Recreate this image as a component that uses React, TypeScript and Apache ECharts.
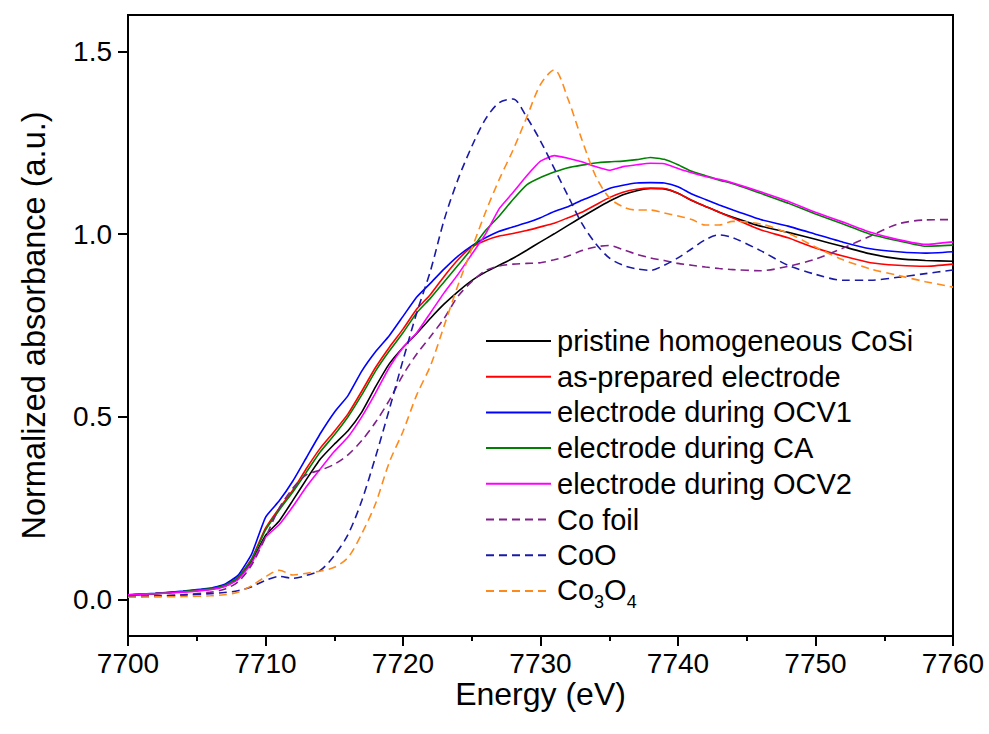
import React, { useEffect, useRef } from 'react';
import * as echarts from 'echarts';

const energy = [7700, 7702, 7704, 7706, 7707, 7708, 7709, 7710, 7711, 7712, 7713, 7714, 7715, 7716, 7717, 7718, 7719, 7720, 7721, 7722, 7723, 7724, 7725, 7726, 7727, 7728, 7729, 7730, 7731, 7732, 7733, 7734, 7735, 7736, 7737, 7738, 7739, 7740, 7741, 7742, 7743, 7744, 7746, 7748, 7750, 7752, 7754, 7756, 7758, 7760];

const pristine = [0.012, 0.016, 0.021, 0.028, 0.036, 0.056, 0.105, 0.175, 0.215, 0.272, 0.33, 0.385, 0.425, 0.462, 0.513, 0.582, 0.645, 0.69, 0.728, 0.77, 0.809, 0.843, 0.873, 0.896, 0.915, 0.934, 0.956, 0.979, 1.001, 1.024, 1.047, 1.069, 1.09, 1.108, 1.119, 1.125, 1.124, 1.112, 1.092, 1.076, 1.06, 1.046, 1.022, 1.005, 0.986, 0.966, 0.946, 0.933, 0.928, 0.926];

const asPrepared = [0.012, 0.016, 0.022, 0.029, 0.038, 0.06, 0.112, 0.195, 0.25, 0.3, 0.36, 0.415, 0.46, 0.508, 0.57, 0.635, 0.69, 0.74, 0.795, 0.835, 0.885, 0.93, 0.965, 0.983, 0.995, 1.002, 1.01, 1.02, 1.03, 1.045, 1.06, 1.08, 1.1, 1.115, 1.123, 1.126, 1.125, 1.112, 1.093, 1.076, 1.06, 1.044, 1.012, 0.99, 0.962, 0.94, 0.922, 0.915, 0.912, 0.918];

const ocv1 = [0.013, 0.017, 0.023, 0.031, 0.041, 0.066, 0.125, 0.225, 0.27, 0.325, 0.39, 0.455, 0.512, 0.558, 0.625, 0.678, 0.722, 0.775, 0.828, 0.866, 0.905, 0.94, 0.968, 0.99, 1.008, 1.02, 1.031, 1.045, 1.062, 1.075, 1.093, 1.108, 1.125, 1.134, 1.14, 1.141, 1.14, 1.13, 1.11, 1.095, 1.08, 1.066, 1.04, 1.022, 1.0, 0.978, 0.96, 0.952, 0.948, 0.952];

const duringCA = [0.012, 0.016, 0.022, 0.029, 0.038, 0.059, 0.11, 0.19, 0.245, 0.295, 0.35, 0.405, 0.45, 0.5, 0.56, 0.625, 0.68, 0.73, 0.785, 0.825, 0.87, 0.915, 0.96, 1.01, 1.05, 1.095, 1.135, 1.155, 1.17, 1.182, 1.189, 1.195, 1.198, 1.2, 1.204, 1.21, 1.205, 1.19, 1.172, 1.16, 1.148, 1.138, 1.112, 1.085, 1.055, 1.028, 1.0, 0.982, 0.967, 0.97];

const ocv2 = [0.013, 0.016, 0.02, 0.027, 0.035, 0.054, 0.1, 0.17, 0.205, 0.255, 0.31, 0.358, 0.405, 0.445, 0.5, 0.565, 0.635, 0.69, 0.73, 0.785, 0.84, 0.89, 0.945, 1.0, 1.07, 1.114, 1.16, 1.2, 1.215, 1.208, 1.198, 1.185, 1.175, 1.185, 1.19, 1.194, 1.193, 1.18, 1.168, 1.158, 1.15, 1.14, 1.116, 1.09, 1.06, 1.033, 1.005, 0.985, 0.972, 0.979];

const coFoil = [0.008, 0.01, 0.013, 0.02, 0.028, 0.048, 0.095, 0.17, 0.25, 0.305, 0.342, 0.354, 0.37, 0.396, 0.435, 0.485, 0.545, 0.615, 0.672, 0.72, 0.77, 0.83, 0.87, 0.9, 0.913, 0.918, 0.92, 0.922, 0.93, 0.94, 0.955, 0.965, 0.969, 0.958, 0.945, 0.935, 0.928, 0.92, 0.915, 0.91, 0.906, 0.903, 0.9, 0.912, 0.932, 0.962, 0.995, 1.028, 1.039, 1.04];

const coO = [0.007, 0.009, 0.012, 0.016, 0.019, 0.024, 0.035, 0.052, 0.063, 0.058, 0.066, 0.08, 0.12, 0.178, 0.27, 0.39, 0.52, 0.655, 0.785, 0.9, 1.04, 1.15, 1.24, 1.315, 1.36, 1.37, 1.32, 1.255, 1.18, 1.105, 1.03, 0.975, 0.935, 0.915, 0.905, 0.901, 0.915, 0.935, 0.96, 0.985, 0.998, 0.99, 0.955, 0.915, 0.89, 0.874, 0.874, 0.882, 0.892, 0.902];

const co3o4 = [0.006, 0.007, 0.008, 0.01, 0.013, 0.02, 0.038, 0.062, 0.08, 0.067, 0.072, 0.078, 0.088, 0.115, 0.18, 0.262, 0.375, 0.46, 0.56, 0.64, 0.75, 0.86, 0.96, 1.06, 1.15, 1.23, 1.32, 1.41, 1.45, 1.37, 1.26, 1.16, 1.1, 1.075, 1.066, 1.066, 1.058, 1.05, 1.04, 1.025, 1.025, 1.035, 1.028, 1.003, 0.965, 0.93, 0.905, 0.887, 0.87, 0.855];

const seriesNames = ['pristine homogeneous CoSi', 'as-prepared electrode', 'electrode during OCV1', 'electrode during CA', 'electrode during OCV2', 'Co foil', 'CoO', 'Co3O4'];
const seriesValues = [pristine, asPrepared, ocv1, duringCA, ocv2, coFoil, coO, co3o4];
const seriesColors = ['#000000', '#ff0000', '#0000ff', '#008000', '#ff00ff', '#80208a', '#1a1aa6', '#ff8a1c'];
const seriesDashed = [false, false, false, false, false, true, true, true];

const yTicks = [0, 0.5, 1.0, 1.5];

const FONT = '"Liberation Sans", Arial, sans-serif';

export default function App() {
  const ref = useRef<HTMLDivElement>(null);
  useEffect(() => {
    document.body.style.margin = '0';
    const chart = echarts.init(ref.current as HTMLDivElement, null, { renderer: 'svg' });
    const series = seriesNames.map((name, k) => ({
      name,
      type: 'line',
      data: energy.map((e, i) => [e, seriesValues[k][i]]),
      symbol: 'none',
      showSymbol: false,
      smooth: seriesDashed[k] ? 0.3 : 0.15,
      lineStyle: { color: seriesColors[k], width: 1.6, type: seriesDashed[k] ? [8, 5] : 'solid' },
      itemStyle: { color: seriesColors[k] },
      emphasis: { disabled: true },
    }));
    chart.setOption({
      animation: false,
      backgroundColor: '#ffffff',
      grid: { left: 128, right: 36, top: 15, bottom: 98, show: true, borderColor: '#000', borderWidth: 2, containLabel: false },
      legend: {
        orient: 'vertical',
        left: 485,
        top: 326,
        padding: 0,
        itemWidth: 65,
        itemHeight: 14,
        itemGap: 5.7,
        data: seriesNames,
        itemStyle: { opacity: 0 },
        textStyle: {
          fontSize: 29,
          fontFamily: FONT,
          color: '#000',
          lineHeight: 30,
          padding: [0, 0, 0, 1],
          rich: {
            n: { fontSize: 29, fontFamily: FONT, color: '#000', lineHeight: 30, verticalAlign: 'top' },
            s: { fontSize: 18, fontFamily: FONT, color: '#000', lineHeight: 18, padding: [17, 0, 0, 0], verticalAlign: 'top' },
          },
        },
        formatter: (name: string) => (name === 'Co3O4' ? '{n|Co}{s|3}{n|O}{s|4}' : name),
      },
      xAxis: {
        type: 'value',
        min: 7700,
        max: 7760,
        interval: 10,
        name: 'Energy (eV)',
        nameLocation: 'middle',
        nameGap: 42,
        nameMoveOverlap: false,
        nameTextStyle: { fontSize: 32, fontFamily: FONT, color: '#000' },
        axisLine: { show: true, onZero: false, lineStyle: { color: '#000', width: 2 } },
        axisTick: { show: true, inside: false, length: 10, lineStyle: { color: '#000', width: 2 } },
        minorTick: { show: true, splitNumber: 2, length: 5, lineStyle: { color: '#000', width: 2 } },
        splitLine: { show: false },
        minorSplitLine: { show: false },
        axisLabel: { fontSize: 28, fontFamily: FONT, color: '#000', margin: 13, formatter: (v: number) => String(v) },
      },
      yAxis: {
        type: 'value',
        min: -0.1,
        max: 1.6,
        name: 'Normalized absorbance (a.u.)',
        nameLocation: 'middle',
        nameGap: 78,
        nameMoveOverlap: false,
        nameTextStyle: { fontSize: 32.5, fontFamily: FONT, color: '#000' },
        axisLine: { show: true, onZero: false, lineStyle: { color: '#000', width: 2 } },
        axisTick: { show: true, inside: false, length: 10, customValues: yTicks, lineStyle: { color: '#000', width: 2 } },
        splitLine: { show: false },
        axisLabel: {
          fontSize: 28,
          fontFamily: FONT,
          color: '#000',
          margin: 16,
          customValues: yTicks,
          formatter: (v: number) => v.toFixed(1),
        },
      },
      series,
    });
    return () => chart.dispose();
  }, []);
  return <div ref={ref} style={{ width: 989, height: 734 }} />;
}
